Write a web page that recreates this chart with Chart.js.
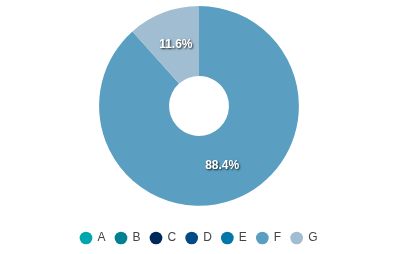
<!DOCTYPE html>
<html>
<head>
<meta charset="utf-8">
<script src="https://cdn.jsdelivr.net/npm/chart.js@4"></script>
<style>
  html, body { margin: 0; padding: 0; background: #fff; }
  #wrap { width: 398px; height: 254px; }
</style>
</head>
<body>
<div id="wrap"><canvas id="pieChart"></canvas></div>
<script>
const categories = ["A", "B", "C", "D", "E", "F", "G"]
const values = [0, 0, 0, 0, 0, 88.4, 11.6]
const colors = ["#00a6ae", "#008091", "#00295b", "#004b86", "#0077a6", "#5a9fc2", "#a1bdd1"]

// draws the % text in the middle of each slice
const sliceLabels = {
    id: "sliceLabels",
    afterDatasetsDraw(chart){
        const ctx = chart.ctx
        const meta = chart.getDatasetMeta(0)
        const total = values.reduce((a, b) => a + b, 0)
        ctx.save()
        ctx.font = "bold 12px 'Liberation Sans', Arial, sans-serif"
        ctx.fillStyle = "#fff"
        ctx.textAlign = "center"
        ctx.textBaseline = "middle"
        ctx.shadowColor = "rgba(0,0,0,0.8)"
        ctx.shadowBlur = 2
        ctx.shadowOffsetX = 1
        ctx.shadowOffsetY = 1
        meta.data.forEach((arc, i) => {
            if(!values[i]) return
            const pos = arc.tooltipPosition()
            ctx.fillText((values[i] / total * 100).toFixed(1) + "%", pos.x, pos.y - 1)
        })
        ctx.restore()
    }
}

new Chart(document.getElementById("pieChart"),{
    type: "doughnut",
    data:{
        labels: categories,
        datasets:[{
            data: values,
            backgroundColor: colors,
            borderWidth: 0,
        }]
    },
    options:{
        responsive: true,
        maintainAspectRatio: false,
        animation: false,
        cutout: "30%",
        layout:{ padding:{ top: 6, bottom: 0 } },
        plugins:{
            tooltip:{ enabled: false },
            legend:{
                position: "bottom",
                // empty title just to push the legend items down
                title:{ display: true, text: "", font:{ size: 1 }, padding:{ top: 15, bottom: 0 } },
                labels:{
                    usePointStyle: true,
                    pointStyle: "circle",
                    boxWidth: 11,
                    boxHeight: 9,
                    color: "#444",
                    padding: 10,
                    font:{ family: "'Liberation Sans', Arial, sans-serif", size: 12 }
                }
            }
        }
    },
    plugins: [sliceLabels]
})
</script>
</body>
</html>
